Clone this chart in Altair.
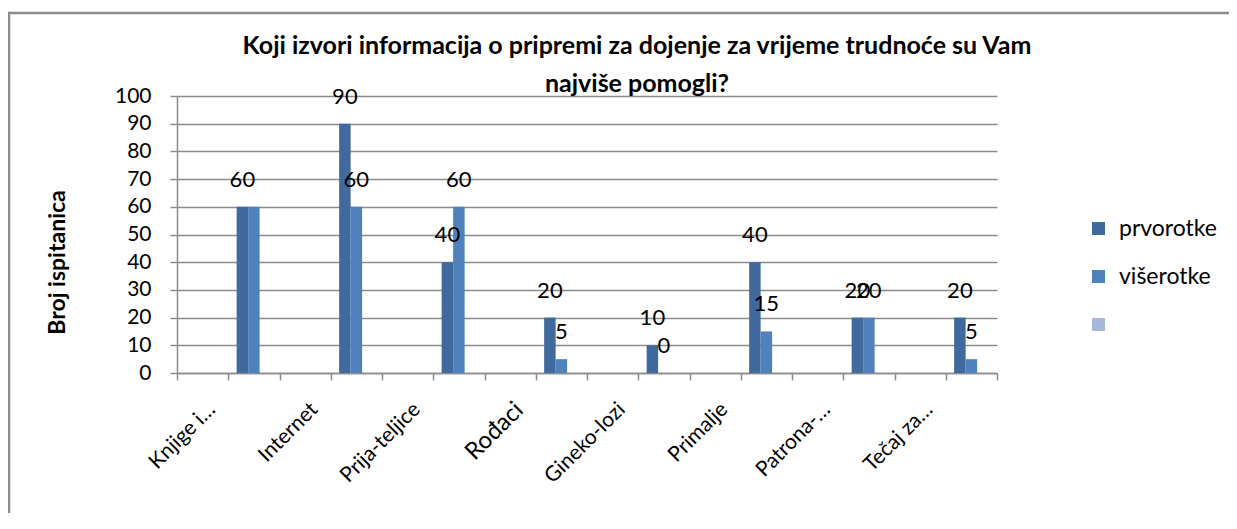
import altair as alt
import pandas as pd

categories = ["Knjige i…", "Internet", "Prija-teljice", "Rođaci", "Gineko-lozi",
              "Primalje", "Patrona-…", "Tečaj za…"]
series_names = ["prvorotke", "višerotke", " "]
prvorotke = [60, 90, 40, 20, 10, 40, 20, 20]
viserotke = [60, 60, 60, 5, 0, 15, 20, 5]
viserotke_label_shown = [False, True, True, True, True, True, True, True]
colors = ["#406A9D", "#4F81BD", "#A7B9DA"]
title_lines = ["Koji izvori informacija o pripremi za dojenje za vrijeme trudnoće su Vam",
               "najviše pomogli?"]
y_title = "Broj ispitanica"

FONT = "Lato"
GRAY = "#8C8C8C"

# Each category occupies two slots: one for its label, one for its bars
slot_domain = []
for c in categories:
    slot_domain += [c, c + "~"]

rows, label_rows = [], []
for i, c in enumerate(categories):
    r1 = {"slot": c + "~", "series": series_names[0], "value": prvorotke[i]}
    r2 = {"slot": c + "~", "series": series_names[1], "value": viserotke[i]}
    rows += [r1, r2]
    label_rows.append(r1)
    if viserotke_label_shown[i]:
        label_rows.append(r2)
df = pd.DataFrame(rows)
df_lab = pd.DataFrame(label_rows)

x_enc = alt.X("slot:N", scale=alt.Scale(domain=slot_domain, paddingInner=0, paddingOuter=0),
              axis=alt.Axis(title=None, labelAngle=-45, labelAlign="right", labelBaseline="middle",
                            labelExpr="indexof(datum.label + '', '~') >= 0 ? '' : datum.label",
                            labelFont=FONT,
                            labelFontSize={"condition": {"test": "datum.label == 'Rođaci'", "value": 24}, "value": 21},
                            labelColor="#000000", labelOverlap=False, labelBound=False, labelFlush=False,
                            labelOffset=9, labelPadding=26,
                            tickBand="extent", tickSize=7, tickColor=GRAY, tickWidth=1.5,
                            domainColor=GRAY, domainWidth=1.5, grid=False))
xoff = alt.XOffset("series:N", scale=alt.Scale(domain=series_names, paddingInner=0, paddingOuter=0.73))
y_enc = alt.Y("value:Q", scale=alt.Scale(domain=[0, 100], nice=False),
              axis=alt.Axis(title=y_title, values=list(range(0, 101, 10)),
                            titleFont=FONT, titleFontSize=23, titleFontWeight="bold", titleColor="#000000",
                            titleAngle=-90, titleX=-120, titleY=166, titleAlign="center", titleBaseline="middle",
                            labelFont=FONT, labelFontSize=21, labelColor="#000000", labelPadding=19,
                            tickSize=7, tickColor=GRAY, tickWidth=1.5,
                            domainColor=GRAY, domainWidth=1.5,
                            gridColor=GRAY, gridWidth=1.5))

bars = alt.Chart(df).mark_bar().encode(
    x=x_enc, xOffset=xoff, y=y_enc,
    color=alt.Color("series:N", scale=alt.Scale(domain=series_names, range=colors),
                    legend=alt.Legend(title=None, orient="none", legendX=910, legendY=121,
                                      symbolType="square", symbolSize=169, symbolStrokeWidth=0,
                                      labelFont=FONT, labelFontSize=23, labelColor="#000000",
                                      labelOffset=9, rowPadding=24, padding=0)),
)

labels = alt.Chart(df_lab).mark_text(
    font=FONT, fontSize=22, color="#000000", baseline="bottom", dy=-15
).encode(x=x_enc, xOffset=xoff, y=y_enc, text=alt.Text("value:Q"))

frame_df = pd.DataFrame({"k": [0]})
frame = alt.Chart(frame_df).mark_rect(fillOpacity=0, stroke=GRAY, strokeWidth=2.5, clip=False).encode(
    x=alt.value(-168), x2=alt.value(1500), y=alt.value(-83), y2=alt.value(1500)
)

chart = alt.layer(frame, bars, labels).properties(
    width=820, height=277,
    title=alt.TitleParams(text=title_lines, font=FONT, fontSize=25, fontWeight="bold", color="#000000",
                          anchor="middle", frame="group", dx=50, dy=89, offset=4, lineHeight=38),
    autosize=alt.AutoSizeParams(type="none"),
    padding={"left": 169, "top": 88, "right": 232, "bottom": 140},
    background="white",
).configure_view(stroke=None)

chart.save("out.html", embed_options={"renderer": "svg", "actions": False})
